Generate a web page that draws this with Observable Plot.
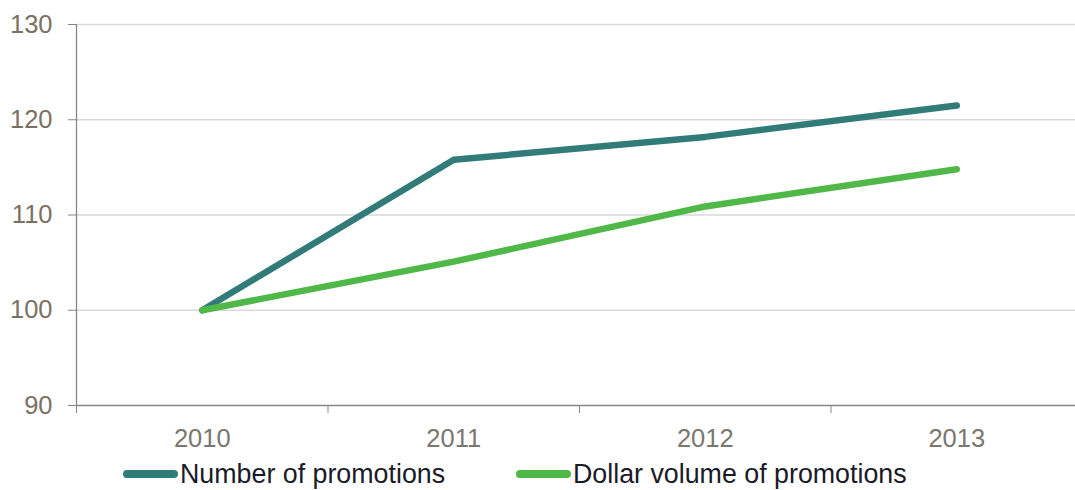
<!DOCTYPE html>
<html>
<head>
<meta charset="utf-8">
<script src="https://cdn.jsdelivr.net/npm/d3@7"></script>
<script src="https://cdn.jsdelivr.net/npm/@observablehq/plot@0.6"></script>
<style>
  html, body { margin: 0; padding: 0; background: #fff; }
  #wrap { position: relative; width: 1075px; height: 490px; overflow: hidden; }
  #legend { position: absolute; left: 0; top: 458px; width: 1075px; height: 32px;
    font-family: "Liberation Sans", Arial, sans-serif; font-size: 26.8px; color: #1a1a28; }
  .item { position: absolute; top: 0; display: flex; align-items: center; height: 32px; }
  .sw { width: 55px; height: 8px; border-radius: 4px; margin-right: 2px; }
</style>
</head>
<body>
<div id="wrap">
  <div id="chart"></div>
  <div id="legend"></div>
</div>
<script>
const years = [2010, 2011, 2012, 2013];
const numberOfPromotions = [100, 115.8, 118.2, 121.5];
const dollarVolume = [100, 105.1, 110.9, 114.8];
const seriesNames = ["Number of promotions", "Dollar volume of promotions"];
const seriesColors = ["#317b78", "#50b848"];
const yTicks = [90, 100, 110, 120, 130];

const rows = [
  ...years.map((y, i) => ({year: y, value: numberOfPromotions[i], series: seriesNames[0]})),
  ...years.map((y, i) => ({year: y, value: dollarVolume[i], series: seriesNames[1]}))
];
const boundaries = years.map(y => y - 0.5);

const chart = Plot.plot({
  width: 1075,
  height: 455,
  marginLeft: 76,
  marginRight: 0,
  marginTop: 24,
  marginBottom: 50,
  style: {fontFamily: "'Liberation Sans', Arial, sans-serif", fontSize: "25.5px", color: "#7b7064", background: "#fff", overflow: "visible"},
  x: {type: "linear", domain: [2009.5, 2013.5], range: [76, 1082]},
  y: {domain: [90, 130], range: [405, 24]},
  color: {domain: seriesNames, range: seriesColors},
  marks: [
    Plot.gridY(yTicks.filter(t => t > 90), {stroke: "#d9d9d9", strokeOpacity: 1, strokeWidth: 1.3}),
    Plot.ruleX([2009.5], {stroke: "#868686", strokeWidth: 1.3}),
    Plot.ruleY([90], {stroke: "#868686", strokeWidth: 1.3}),
    Plot.axisY({ticks: yTicks, tickSize: 8, tickPadding: 16, stroke: "#868686", fill: "#7b7064", fontSize: 25.5, label: null}),
    Plot.axisX({ticks: boundaries, tickSize: 8, tickFormat: () => "", stroke: "#868686", label: null}),
    Plot.axisX({ticks: years, tickSize: 0, tickPadding: 23, tickFormat: d => String(d), fill: "#7a7670", fontSize: 25.5, label: null}),
    Plot.line(rows, {x: "year", y: "value", z: "series", stroke: "series", strokeWidth: 6.5, strokeLinecap: "round", strokeLinejoin: "round"})
  ]
});
document.getElementById("chart").appendChild(chart);

const legend = document.getElementById("legend");
const lefts = [123, 516];
seriesNames.forEach((name, i) => {
  const it = document.createElement("div");
  it.className = "item";
  it.style.left = lefts[i] + "px";
  it.innerHTML = `<span class="sw" style="background:${seriesColors[i]}"></span><span>${name}</span>`;
  legend.appendChild(it);
});
</script>
</body>
</html>
